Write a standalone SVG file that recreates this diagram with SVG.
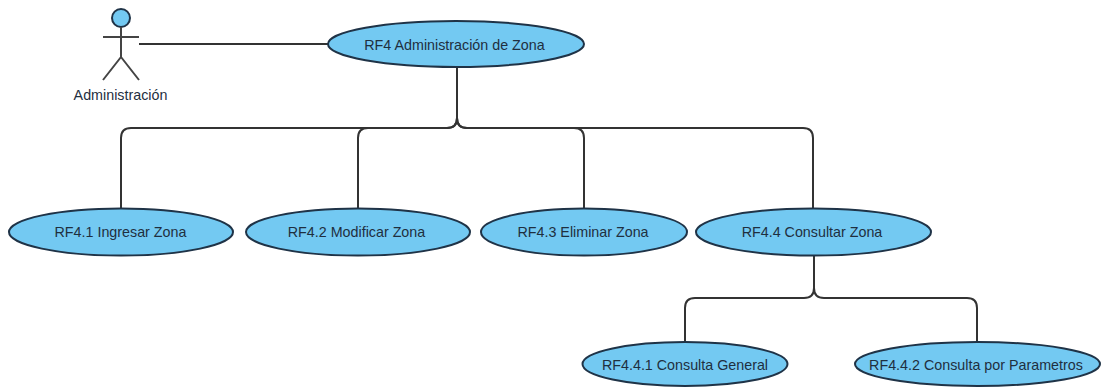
<svg xmlns="http://www.w3.org/2000/svg" width="1103" height="387" viewBox="0 0 1103 387">
<style>
.n{fill:#73c9f2;stroke:#1f3347;stroke-width:2}
.c{fill:none;stroke:#333;stroke-width:2}
.a{fill:none;stroke:#444;stroke-width:2}
text{font-family:"Liberation Sans",Arial,sans-serif;font-size:14.3px;fill:#1f2f3f;text-anchor:middle}
</style>
<rect width="1103" height="387" fill="#fff"/>
<g id="connectors">
<path class="c" d="M139 44H328"/>
<path class="c" d="M457 67V118Q457 128 447 128H131Q121 128 121 138V208"/>
<path class="c" d="M457 118Q457 128 447 128H368Q358 128 358 138V208"/>
<path class="c" d="M457 118Q457 128 467 128H574Q584 128 584 138V208"/>
<path class="c" d="M457 118Q457 128 467 128H803Q813 128 813 138V208"/>
<path class="c" d="M814 255V288Q814 298 804 298H695Q685 298 685 308V342"/>
<path class="c" d="M814 288Q814 298 824 298H967Q977 298 977 308V342"/>
</g>
<g id="actor">
<circle cx="121" cy="18" r="9" class="n"/>
<path class="a" d="M121 27V57M103 37H139M121 57L103 80M121 57L139 80"/>
<text x="120.500" y="100">Administración</text>
</g>
<g id="rf4"><ellipse cx="456" cy="44" rx="128" ry="23" class="n"/><text x="454.500" y="50">RF4 Administración de Zona</text></g>
<g id="rf41"><ellipse cx="121" cy="232" rx="112" ry="23.500" class="n"/><text x="120.500" y="237">RF4.1 Ingresar Zona</text></g>
<g id="rf42"><ellipse cx="358" cy="232" rx="112" ry="23.500" class="n"/><text x="356.500" y="237">RF4.2 Modificar Zona</text></g>
<g id="rf43"><ellipse cx="584" cy="232" rx="103" ry="23.500" class="n"/><text x="583" y="237">RF4.3 Eliminar Zona</text></g>
<g id="rf44"><ellipse cx="813.500" cy="232" rx="117.500" ry="23.500" class="n"/><text x="812" y="237">RF4.4 Consultar Zona</text></g>
<g id="rf441"><ellipse cx="685" cy="364" rx="102.500" ry="22" class="n"/><text x="685" y="370">RF4.4.1 Consulta General</text></g>
<g id="rf442"><ellipse cx="977.500" cy="364" rx="122.500" ry="22" class="n"/><text x="976" y="370">RF4.4.2 Consulta por Parametros</text></g>
</svg>
